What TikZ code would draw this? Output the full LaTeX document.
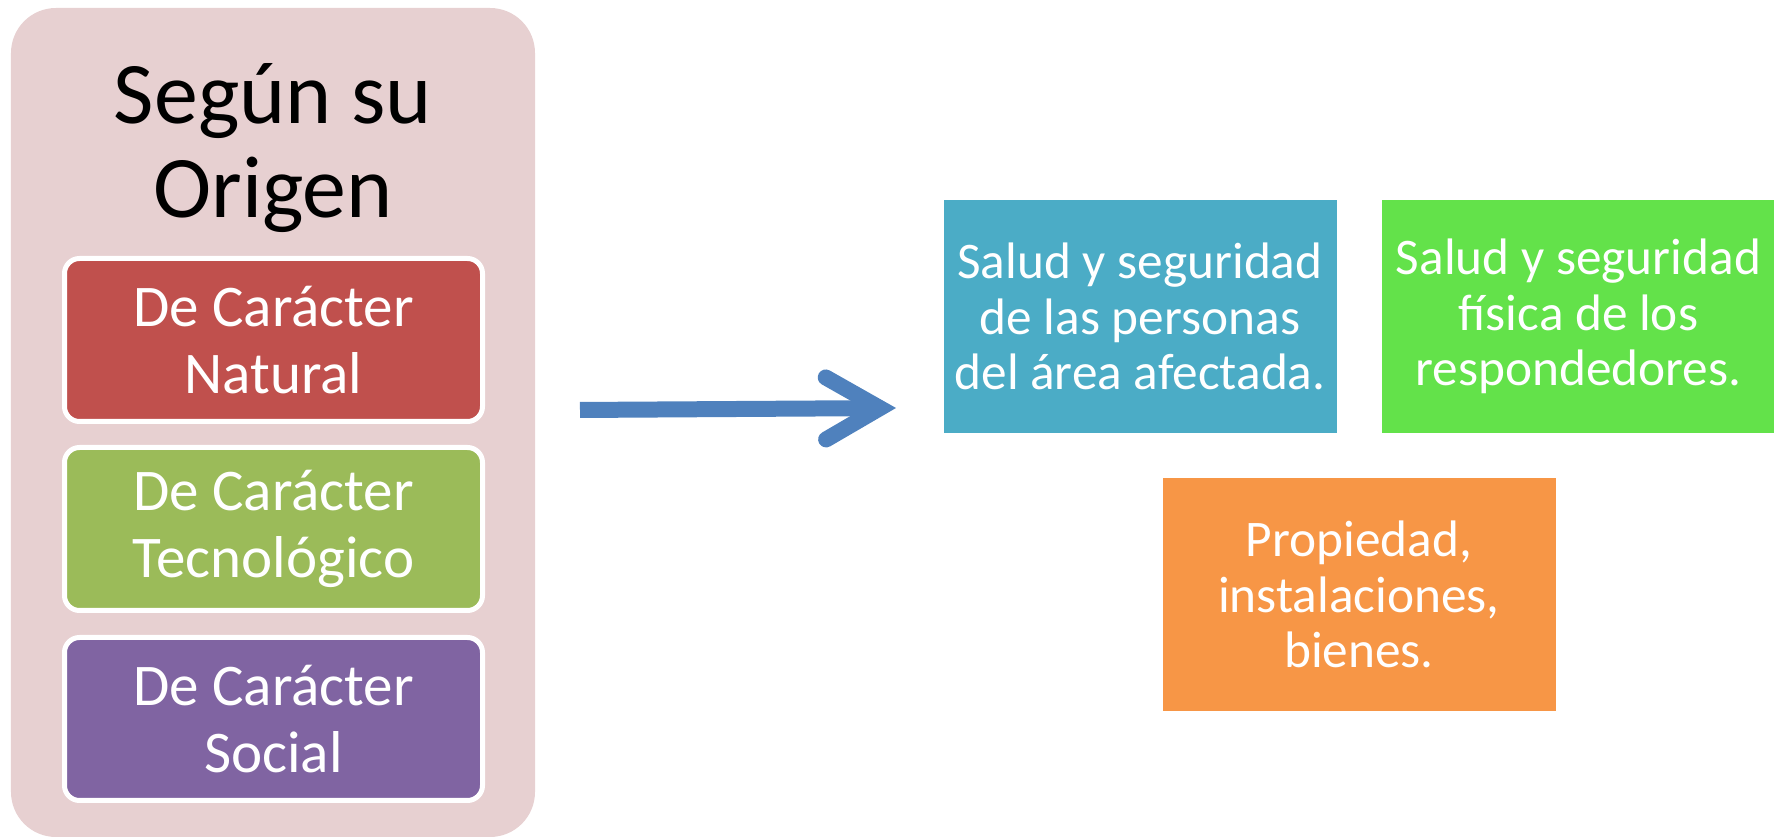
\documentclass[tikz,border=0pt]{standalone}
\usepackage{fontspec}
\setmainfont{Carlito}
\usetikzlibrary{arrows.meta}

\definecolor{rosa}{RGB}{231,208,209}
\definecolor{rojo}{RGB}{192,80,77}
\definecolor{verdeolivo}{RGB}{155,187,89}
\definecolor{morado}{RGB}{128,100,162}
\definecolor{azulflecha}{RGB}{79,129,189}
\definecolor{celeste}{RGB}{75,172,198}
\definecolor{verdevivo}{RGB}{99,226,74}
\definecolor{naranja}{RGB}{247,150,70}

\tikzset{
  tipo/.style={rounded corners=0.15cm,draw=white,line width=0.05cm,
    minimum width=4.18cm,minimum height=1.63cm,inner sep=0pt,
    text=white,align=center,font=\fontsize{16.8}{19}\selectfont},
  afecta/.style={minimum width=3.93cm,minimum height=2.33cm,inner sep=0pt,
    text=white,align=center,font=\fontsize{14.6}{15.8}\selectfont}
}

\begin{document}
\begin{tikzpicture}
                \useasboundingbox (0,0) rectangle (17.74,8.40);

                \node (fondo) at (2.73,4.175) [rounded corners=0.45cm,fill=rosa,minimum width=5.24cm,minimum height=8.29cm] {};
                \node (origen) at (2.73,6.92) [align=center,font=\fontsize{25}{27}\selectfont] {Según su\\Origen};

                \node (natural) at (2.735,5.00) [tipo,fill=rojo] {De Carácter\\Natural};
                \node (tecnologico) at (2.735,3.11) [tipo,fill=verdeolivo] {De Carácter\\Tecnológico};
                \node (social) at (2.735,1.21) [tipo,fill=morado] {De Carácter\\Social};

                \coordinate (flechaini) at (5.80,4.30);
                \coordinate (flechafin) at (8.96,4.32);
                \draw [azulflecha,line width=0.16cm,-{Straight Barb[length=5.4mm,width=6.2mm,line cap=round,line join=miter]}] (flechaini) -- (flechafin);

                \node (personas) at (11.40,5.235) [afecta,fill=celeste] {Salud y seguridad\\de las personas\\del área afectada.};
                \node (respondedores) at (15.785,5.235) [afecta,fill=verdevivo] {Salud y seguridad\\física de los\\respondedores.};
                \node (propiedad) at (13.59,2.455) [afecta,fill=naranja] {Propiedad,\\instalaciones,\\bienes.};
            \end{tikzpicture}
\end{document}
